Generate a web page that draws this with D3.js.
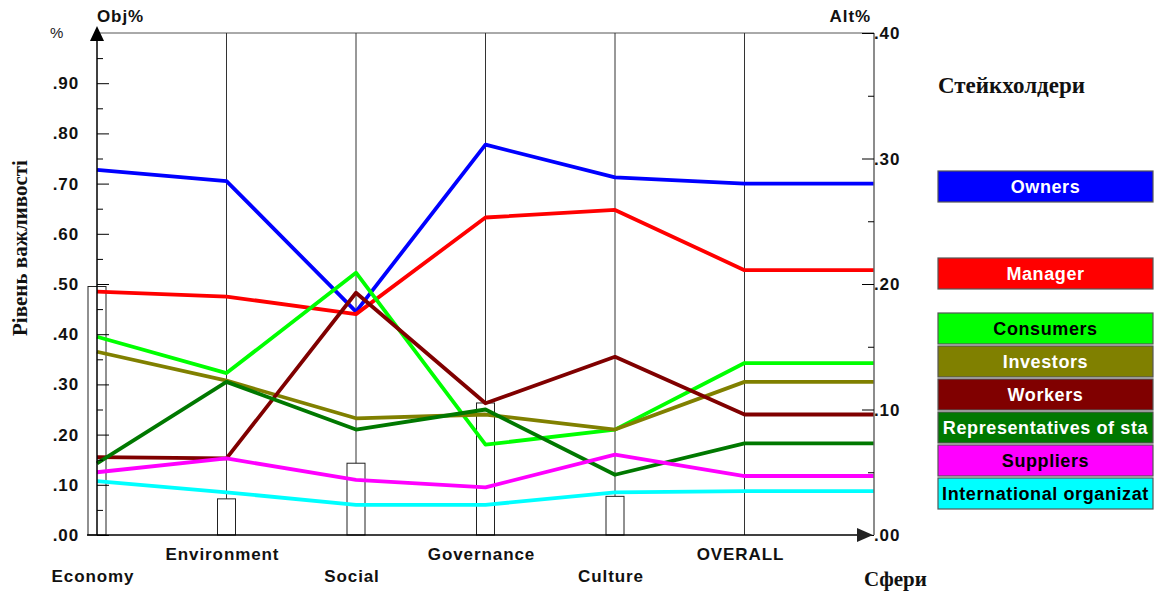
<!DOCTYPE html>
<html><head><meta charset="utf-8">
<script src="https://cdn.jsdelivr.net/npm/d3@7"></script>
<style>body{margin:0;background:#fff;} svg{display:block;}</style>
</head><body>
<svg id="c" width="1158" height="591"></svg>
<script>
const categories = ["Economy","Environment","Social","Governance","Culture","OVERALL"];
const objWeights = [0.495, 0.072, 0.143, 0.263, 0.077];
const stakeholders = ["Owners","Manager","Consumers","Investors","Workers","Representatives of sta","Suppliers","International organizat"];
const colors = ["#0000ff","#ff0000","#00ff00","#808000","#800000","#007800","#ff00ff","#00ffff"];
const textColors = ["#fff","#fff","#000","#fff","#fff","#fff","#000","#000"];
const owners = [0.291, 0.282, 0.178, 0.311, 0.285, 0.280];
const manager = [0.194, 0.190, 0.176, 0.253, 0.259, 0.211];
const consumers = [0.158, 0.129, 0.209, 0.072, 0.084, 0.137];
const investors = [0.146, 0.123, 0.093, 0.096, 0.084, 0.122];
const workers = [0.062, 0.061, 0.193, 0.105, 0.142, 0.096];
const representatives = [0.057, 0.122, 0.084, 0.100, 0.048, 0.073];
const suppliers = [0.050, 0.061, 0.044, 0.038, 0.064, 0.047];
const international = [0.043, 0.034, 0.024, 0.024, 0.034, 0.035];
const series = [owners, manager, consumers, investors, workers, representatives, suppliers, international];
const leftTicks = [".00",".10",".20",".30",".40",".50",".60",".70",".80",".90"];
const rightTicks = [".00",".10",".20",".30",".40"];

const svg = d3.select("#c");
const X0 = 97, X1 = 874, Y0 = 535, Y1 = 33;
const x = d3.scalePoint().domain([...categories, "_end"]).range([X0, X1]);
const yL = d3.scaleLinear().domain([0,1]).range([Y0,Y1]);
const yR = d3.scaleLinear().domain([0,0.4]).range([Y0,Y1]);
const arial = "Liberation Sans, Arial, sans-serif";
const serif = "Liberation Serif, Times New Roman, serif";
const LS = "0.9px";

// top border
svg.append("line").attr("x1",X0).attr("x2",X1).attr("y1",Y1).attr("y2",Y1).attr("stroke","#555");
// vertical gridlines
categories.slice(1).forEach(c=>{
  svg.append("line").attr("x1",x(c)).attr("x2",x(c)).attr("y1",Y1).attr("y2",Y0).attr("stroke","#333").attr("stroke-width",1);
});

// bars (objective weights, left axis)
const bw = 18;
svg.selectAll("rect.bar").data(objWeights).enter().append("rect")
  .attr("x",(d,i)=>x(categories[i])-bw/2).attr("width",bw)
  .attr("y",d=>yL(d)).attr("height",d=>Y0-yL(d))
  .attr("fill","#fff").attr("stroke","#222").attr("stroke-width",1);

// lines
const line = d3.line().x(d=>d[0]).y(d=>d[1]);
series.forEach((s,k)=>{
  const pts = s.map((v,i)=>[x(categories[i]), yR(v)]);
  pts.push([x("_end"), yR(s[s.length-1])]);
  svg.append("path").attr("d",line(pts)).attr("fill","none")
    .attr("stroke",colors[k]).attr("stroke-width",3.8).attr("stroke-linejoin","round");
});

// left axis
svg.append("line").attr("x1",X0).attr("x2",X0).attr("y1",Y0).attr("y2",Y1+6).attr("stroke","#000").attr("stroke-width",1.5);
svg.append("path").attr("d",`M${X0},${Y1-7} L${X0-7},${Y1+8} L${X0+7},${Y1+8} Z`).attr("fill","#000");
const lAx = d3.axisRight(yL).tickValues(d3.range(0,0.951,0.05)).tickSize(6).tickFormat("");
const gl = svg.append("g").attr("transform",`translate(${X0},0)`).call(lAx);
gl.select(".domain").remove();
gl.selectAll(".tick line").attr("stroke","#000").attr("x2",(d)=>Math.round(d*100)%10===0?12:6);
leftTicks.forEach((t,i)=>{
  svg.append("text").attr("x",79).attr("y",yL(i/10)+6).attr("text-anchor","end")
    .attr("font-family",arial).attr("font-weight","bold").attr("font-size",17).attr("letter-spacing",LS).attr("fill","#111").text(t);
});
svg.append("text").attr("x",50).attr("y",38).attr("font-family",arial).attr("font-size",15).attr("fill","#222").text("%");
svg.append("text").attr("x",97).attr("y",22).attr("font-family",arial).attr("font-weight","bold").attr("font-size",17).attr("letter-spacing",LS).attr("fill","#111").text("Obj%");

// right axis
svg.append("line").attr("x1",X1).attr("x2",X1).attr("y1",Y0).attr("y2",Y1).attr("stroke","#666").attr("stroke-width",1.5);
const rAx = d3.axisLeft(yR).tickValues(d3.range(0,0.401,0.05)).tickSize(6).tickFormat("");
const gr = svg.append("g").attr("transform",`translate(${X1},0)`).call(rAx);
gr.select(".domain").remove();
gr.selectAll(".tick line").attr("stroke","#000").attr("x2",(d)=>Math.round(d*100)%10===0?-12:-6);
rightTicks.forEach((t,i)=>{
  svg.append("text").attr("x",874).attr("y",yR(i/10)+6)
    .attr("font-family",arial).attr("font-weight","bold").attr("font-size",17).attr("letter-spacing",LS).attr("fill","#111").text(t);
});
svg.append("text").attr("x",871).attr("y",22).attr("text-anchor","end").attr("font-family",arial).attr("font-weight","bold").attr("font-size",17).attr("letter-spacing",LS).attr("fill","#111").text("Alt%");

// bottom axis
svg.append("line").attr("x1",X0-10).attr("x2",X1-12).attr("y1",Y0).attr("y2",Y0).attr("stroke","#000").attr("stroke-width",1.5);
svg.append("path").attr("d",`M${X1-1},${Y0} L${X1-17},${Y0-7} L${X1-17},${Y0+7} Z`).attr("fill","#222");

// category labels
categories.forEach((c,i)=>{
  svg.append("text").attr("x",x(c)-4).attr("y",i%2===0?582:560).attr("text-anchor","middle")
    .attr("font-family",arial).attr("font-weight","bold").attr("font-size",17).attr("letter-spacing",LS).attr("fill","#111").text(c);
});
svg.append("text").attr("x",864).attr("y",586).attr("font-family",serif).attr("font-weight","bold").attr("font-size",21).attr("fill","#111").text("Сфери");
svg.append("text").attr("transform","translate(27,248) rotate(-90)").attr("text-anchor","middle")
  .attr("font-family",serif).attr("font-weight","bold").attr("font-size",21).attr("fill","#111").text("Рівень важливості");

// legend
svg.append("text").attr("x",938).attr("y",93).attr("font-family",serif).attr("font-weight","bold").attr("font-size",23).attr("fill","#111").text("Стейкхолдери");
const legY = [171,258,313,346,379,412,445,478];
stakeholders.forEach((s,k)=>{
  svg.append("rect").attr("x",938).attr("y",legY[k]).attr("width",215).attr("height",31)
    .attr("fill",colors[k]).attr("stroke","#555").attr("stroke-width",1.2);
  svg.append("text").attr("x",1045.5).attr("y",legY[k]+22).attr("text-anchor","middle")
    .attr("font-family",arial).attr("font-weight","bold").attr("font-size",18).attr("letter-spacing","0.6px").attr("fill",textColors[k]).text(s);
});
</script>
</body></html>
